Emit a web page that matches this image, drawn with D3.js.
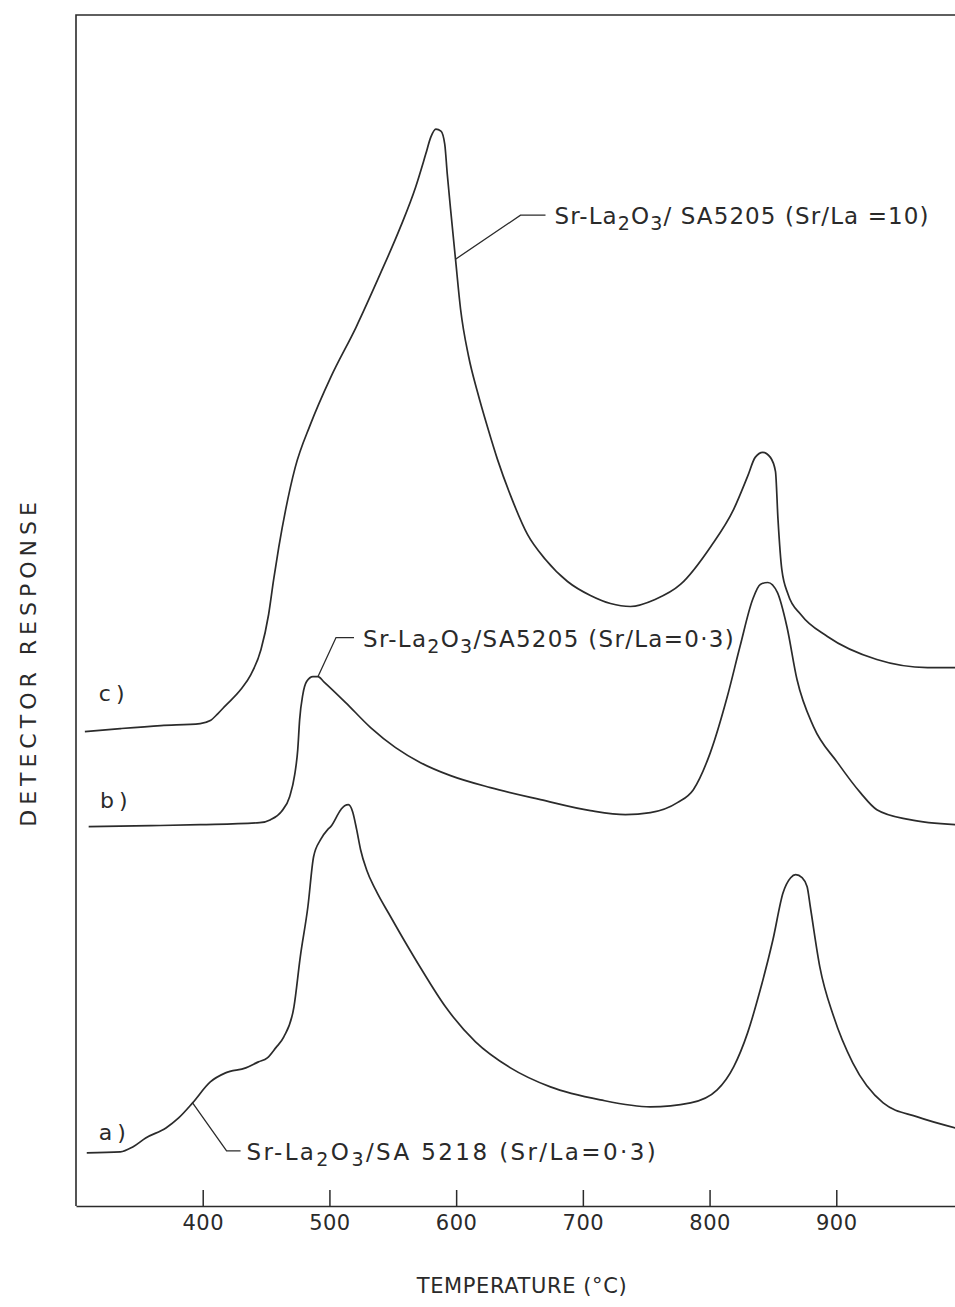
<!DOCTYPE html>
<html>
<head>
<meta charset="utf-8">
<script src="https://cdn.jsdelivr.net/npm/d3@7"></script>
<style>
  body { margin: 0; background: #fff; }
  text { font-family: "DejaVu Sans", sans-serif; fill: #2a2a2a; }
</style>
</head>
<body>
<div id="graph"></div>
<script>
// temperature (deg C) and detector response (arb. units) for each trace
const cTemp = [307, 335, 367, 398, 406, 412, 418, 430, 438, 446, 452, 456, 460, 465.5, 473, 485, 501, 521, 540, 556, 568, 576, 580, 584, 588, 591, 593, 595.6, 599.5, 603.5, 609.8, 616.9, 624.8, 632.6, 642.9, 656.3, 670.5, 687.9, 706, 721.8, 737.5, 757, 777, 801, 819, 830, 836, 842, 848, 852, 854, 857, 862, 872, 893, 932, 972, 994];
const cResp = [47.4, 47.7, 48.0, 48.2, 48.5, 49.2, 50.0, 51.6, 53.1, 55.6, 59.1, 62.6, 65.8, 69.6, 73.8, 78.1, 82.8, 87.8, 93.1, 97.8, 101.8, 105.1, 106.8, 107.6, 107.4, 106.1, 103.1, 99.6, 94.6, 89.6, 84.9, 81.3, 77.8, 74.6, 71.0, 67.1, 64.6, 62.4, 61.0, 60.2, 59.9, 60.6, 62.1, 65.9, 69.6, 72.9, 74.8, 75.3, 74.8, 73.4, 68.6, 63.6, 61.1, 59.1, 56.9, 54.6, 53.8, 53.8];

const bTemp = [310, 359, 398, 445, 453.6, 462, 468.6, 472.6, 475, 476.5, 479, 482, 487, 491, 495.4, 512.8, 532.5, 552.2, 571.9, 595.6, 627.1, 666.6, 706, 733.6, 753.3, 774.6, 787.2, 800.6, 814, 824, 834, 840, 846, 853.5, 861, 869, 882, 901, 919, 932, 958, 994];
const bResp = [37.9, 38.0, 38.1, 38.3, 38.6, 39.4, 40.9, 43.1, 45.6, 48.6, 51.1, 52.4, 52.9, 52.9, 52.4, 50.3, 47.8, 45.8, 44.3, 43.0, 41.8, 40.6, 39.5, 39.1, 39.3, 40.3, 41.6, 45.3, 50.9, 55.9, 60.6, 62.1, 62.3, 61.3, 57.9, 52.6, 47.9, 44.3, 41.3, 39.6, 38.6, 38.1];

const aTemp = [308.5, 335, 344.8, 355, 371, 381, 392, 406, 418, 434, 444, 451, 457.6, 464, 472, 477, 483, 487.5, 493, 498.6, 501, 509, 512, 515, 518.3, 521.5, 524.6, 529.3, 536.4, 548.3, 560.1, 571.9, 591.6, 615.3, 642.9, 674.4, 713.9, 753.3, 785, 806, 819, 830, 840, 850, 858, 864, 868, 873, 877, 879.5, 887, 898, 913, 937, 964, 994];
const aResp = [5.3, 5.4, 5.9, 6.8, 7.8, 8.8, 10.3, 12.4, 13.3, 13.8, 14.4, 14.8, 15.8, 16.9, 19.9, 24.9, 29.9, 34.9, 36.6, 37.6, 37.9, 39.6, 40.0, 40.1, 39.4, 37.6, 35.6, 33.6, 31.6, 28.9, 26.3, 23.8, 19.9, 16.4, 13.8, 11.9, 10.6, 9.9, 10.3, 11.6, 13.9, 17.3, 21.6, 26.6, 31.3, 32.8, 33.1, 32.8, 31.9, 29.9, 23.9, 18.9, 14.3, 10.3, 8.9, 7.8];

const tickTemps = [400, 500, 600, 700, 800, 900];

const chartW = 955;
const chartH = 1307;
const frameLeft = 76;
const frameTop = 15;
const frameBottom = 1206;

const xScale = d3.scaleLinear().domain([300, 1000]).range([frameLeft, 963]);
const yScale = d3.scaleLinear().domain([0, 119]).range([frameBottom, frameTop]);

const svg = d3.select("#graph").append("svg")
  .attr("width", chartW)
  .attr("height", chartH)
  .style("background", "#fff");

const ink = "#2b2b2b";

//frame: left and top edges
svg.append("path")
  .attr("d", `M${frameLeft},${frameBottom} L${frameLeft},${frameTop} L${chartW},${frameTop}`)
  .attr("fill", "none")
  .attr("stroke", ink)
  .attr("stroke-width", 1.6);

//x axis with ticks pointing up into the plot
const xAxis = d3.axisBottom(xScale)
  .tickValues(tickTemps)
  .tickSizeInner(-16)
  .tickSizeOuter(0)
  .tickPadding(9);

const gx = svg.append("g")
  .attr("transform", `translate(0,${frameBottom})`)
  .call(xAxis);
gx.select(".domain").attr("stroke", ink).attr("stroke-width", 1.6);
gx.selectAll(".tick line").attr("stroke", ink).attr("stroke-width", 1.5);
gx.selectAll(".tick text")
  .attr("font-size", 21)
  .attr("font-family", "DejaVu Sans, sans-serif")
  .attr("fill", ink)
  .attr("letter-spacing", 0.5);

//traces
const line = d3.line()
  .x(d => xScale(d[0]))
  .y(d => yScale(d[1]))
  .curve(d3.curveMonotoneX);

const traces = [
  { id: "c", pts: d3.zip(cTemp, cResp) },
  { id: "b", pts: d3.zip(bTemp, bResp) },
  { id: "a", pts: d3.zip(aTemp, aResp) }
];

svg.selectAll("path.trace")
  .data(traces)
  .enter()
  .append("path")
  .attr("class", "trace")
  .attr("d", d => line(d.pts))
  .attr("fill", "none")
  .attr("stroke", ink)
  .attr("stroke-width", 1.7)
  .attr("stroke-linejoin", "round");

//trace letters
const letters = [
  { t: "c)", T: 318, R: 50.5 },
  { t: "b)", T: 319, R: 39.8 },
  { t: "a)", T: 318, R: 6.6 }
];
svg.selectAll("text.letter")
  .data(letters)
  .enter()
  .append("text")
  .attr("class", "letter")
  .attr("x", d => xScale(d.T))
  .attr("y", d => yScale(d.R))
  .attr("font-size", 22)
  .attr("letter-spacing", 5)
  .text(d => d.t);

//sample labels with leader lines
const notes = [
  { T: 599.5, R: 94.6, dx1: 65, dy1: -44, dx2: 90, gap: 9, ls: 1.1, parts: ["Sr-La", "2", "O", "3", "/ SA5205 (Sr/La =10)"] },
  { T: 491, R: 52.9, dx1: 18, dy1: -39, dx2: 36, gap: 9, ls: 1.3, parts: ["Sr-La", "2", "O", "3", "/SA5205 (Sr/La=0·3)"] },
  { T: 392, R: 10.3, dx1: 34, dy1: 48, dx2: 48, gap: 6, ls: 2.4, parts: ["Sr-La", "2", "O", "3", "/SA 5218 (Sr/La=0·3)"] }
];

notes.forEach(n => {
  const x0 = xScale(n.T);
  const y0 = yScale(n.R);
  svg.append("path")
    .attr("d", `M${x0},${y0} L${x0 + n.dx1},${y0 + n.dy1} L${x0 + n.dx2},${y0 + n.dy1}`)
    .attr("fill", "none")
    .attr("stroke", ink)
    .attr("stroke-width", 1.3);
  const txt = svg.append("text")
    .attr("x", x0 + n.dx2 + n.gap)
    .attr("y", y0 + n.dy1 + 9)
    .attr("font-size", 23)
    .attr("letter-spacing", n.ls);
  n.parts.forEach((p, i) => {
    const sub = i === 1 || i === 3;
    txt.append("tspan")
      .attr("dy", sub ? 6 : (i === 0 ? 0 : -6))
      .attr("font-size", sub ? 19 : 23)
      .text(p);
  });
});

//axis titles
svg.append("text")
  .attr("x", 522)
  .attr("y", 1293)
  .attr("text-anchor", "middle")
  .attr("font-size", 21)
  .attr("letter-spacing", 0.6)
  .text("TEMPERATURE (°C)");

svg.append("text")
  .attr("transform", "translate(36,662) rotate(-90)")
  .attr("text-anchor", "middle")
  .attr("font-size", 22)
  .attr("letter-spacing", 5)
  .text("DETECTOR RESPONSE");
</script>
</body>
</html>
